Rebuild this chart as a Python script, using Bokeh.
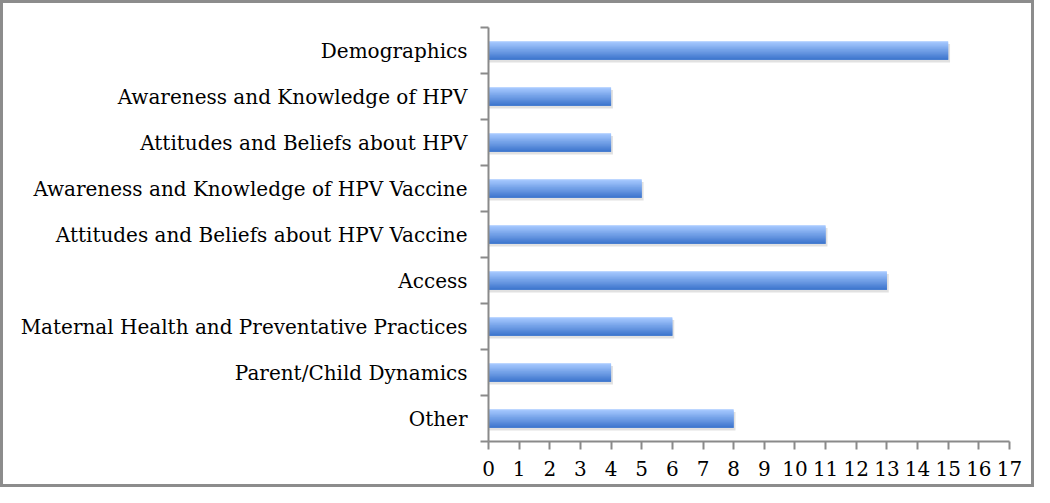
from bokeh.plotting import figure
from bokeh.models import Range1d, FixedTicker
from bokeh.embed import file_html
from bokeh.resources import INLINE

categories = [
    "Demographics",
    "Awareness and Knowledge of HPV",
    "Attitudes and Beliefs about HPV",
    "Awareness and Knowledge of HPV Vaccine",
    "Attitudes and Beliefs about HPV Vaccine",
    "Access",
    "Maternal Health and Preventative Practices",
    "Parent/Child Dynamics",
    "Other",
]
counts = [15, 4, 4, 5, 11, 13, 6, 4, 8]
x_ticks = list(range(0, 18))

n = len(categories)
ypos = [n - 1 - i for i in range(n)]

p = figure(width=1034, height=487, output_backend="svg", toolbar_location=None,
           x_range=Range1d(0, 17), y_range=Range1d(-0.5, n - 0.5),
           min_border_left=485, min_border_right=28, min_border_top=24, min_border_bottom=49)
p.styles = {"border": "3px solid #8c8c8c", "box-sizing": "border-box"}
p.outline_line_color = None
p.grid.visible = False
p.background_fill_color = "white"
p.border_fill_color = "white"

bar_h = 0.40

# shadow
p.hbar(y=[v - 0.06 for v in ypos], left=0, right=[c + 0.06 for c in counts], height=bar_h,
       fill_color="#9a9a9a", fill_alpha=0.30, line_color=None)

# gradient via stacked strips
top = (0xA6, 0xC9, 0xFF)
bot = (0x3E, 0x76, 0xCE)
N = 16
for k in range(N):
    t = k / (N - 1)
    col = "#%02x%02x%02x" % tuple(int(round(top[j] + (bot[j] - top[j]) * t)) for j in range(3))
    strip = bar_h / N
    top_edge = bar_h / 2 - k * strip
    h = strip * 2 if k < N - 1 else strip
    p.hbar(y=[v + top_edge - h / 2 for v in ypos], left=0, right=counts, height=h,
           fill_color=col, line_color=None)

font = "DejaVu Serif"
ax = p.xaxis[0]
ax.ticker = FixedTicker(ticks=x_ticks)
ax.axis_line_color = "#8a8a8a"
ax.axis_line_width = 2
ax.major_tick_line_color = "#8a8a8a"
ax.major_tick_line_width = 2
ax.major_tick_in = 0
ax.major_tick_out = 8
ax.minor_tick_out = 0
ax.minor_tick_in = 0
ax.major_label_text_font = font
ax.major_label_text_font_size = "20px"
ax.major_label_text_color = "black"
ax.major_label_standoff = 11

ay = p.yaxis[0]
ay.ticker = FixedTicker(ticks=ypos, minor_ticks=[b - 0.5 for b in range(n + 1)])
ay.major_label_overrides = {v: categories[i] for i, v in enumerate(ypos)}
ay.axis_line_color = "#8a8a8a"
ay.axis_line_width = 2
ay.major_tick_line_color = None
ay.major_tick_in = 0
ay.major_tick_out = 0
ay.minor_tick_line_color = "#8a8a8a"
ay.minor_tick_line_width = 2
ay.minor_tick_in = 0
ay.minor_tick_out = 8
ay.major_label_text_font = font
ay.major_label_text_font_size = "20px"
ay.major_label_text_color = "black"
ay.major_label_standoff = 13

open("out.html", "w").write(file_html(p, INLINE))
